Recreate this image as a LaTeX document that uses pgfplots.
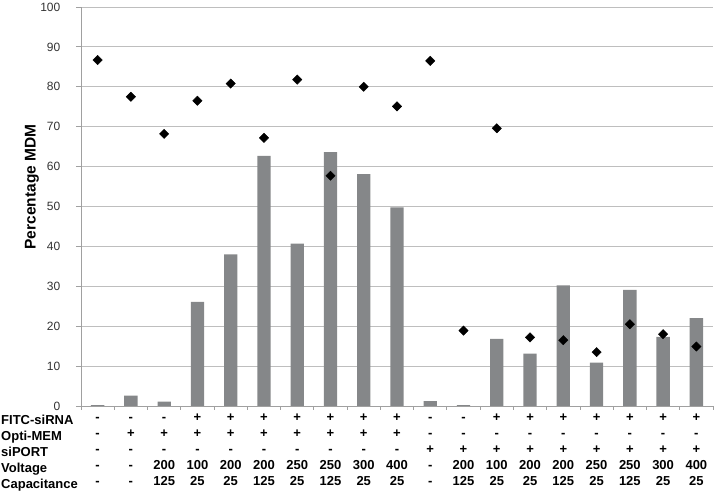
\documentclass[border=0pt]{standalone}
\usepackage{fontspec}
\setmainfont{Liberation Sans}
\usepackage{pgfplots}
\pgfplotsset{compat=1.18}
\definecolor{bargray}{HTML}{858789}
\definecolor{gridgray}{HTML}{BEBEBE}
\definecolor{axisgray}{HTML}{A0A0A0}
\newcommand{\st}{\rule{0pt}{10pt}}
\begin{document}
\begin{tikzpicture}
\begin{axis}[
  scale only axis, width=632pt, height=399pt,
  xmin=-0.5, xmax=18.5, ymin=0, ymax=100,
  axis lines=left, axis line style={-, draw=axisgray, line width=0.8pt},
  ytick={0,10,...,100},
  ymajorgrids, grid style={gridgray, line width=0.8pt},
  xtick={0,...,18},
  xticklabels={
    {\st-\\-\\-\\-\\-},
    {\st-\\+\\-\\-\\-},
    {\st-\\+\\-\\200\\125},
    {\st+\\+\\-\\100\\25},
    {\st+\\+\\-\\200\\25},
    {\st+\\+\\-\\200\\125},
    {\st+\\+\\-\\250\\25},
    {\st+\\+\\-\\250\\125},
    {\st+\\+\\-\\300\\25},
    {\st+\\+\\-\\400\\25},
    {\st-\\-\\+\\-\\-},
    {\st-\\-\\+\\200\\125},
    {\st+\\-\\+\\100\\25},
    {\st+\\-\\+\\200\\25},
    {\st+\\-\\+\\200\\125},
    {\st+\\-\\+\\250\\25},
    {\st+\\-\\+\\250\\125},
    {\st+\\-\\+\\300\\25},
    {\st+\\-\\+\\400\\25}},
  minor xtick={-0.5,0.5,...,18.5},
  tick align=outside,
  major tick length=5pt, minor tick length=4pt,
  tick style={axisgray, line width=0.8pt},
  major x tick style={draw=none},
  /pgf/number format/assume math mode=true,
  yticklabel style={font=\fontsize{12}{14}\selectfont, text=black!80, anchor=east, inner sep=0pt, xshift=-15.5pt},
  xticklabel style={font=\bfseries\fontsize{13}{16}\selectfont, align=center, anchor=north, inner sep=0pt},
  clip=false,
]
\addplot[ybar, bar width=13.3pt, fill=bargray, draw=none] coordinates {
  (0,0.2) (1,2.6) (2,1.1) (3,26.1) (4,38.0) (5,62.7) (6,40.7) (7,63.6) (8,58.1) (9,49.8)
  (10,1.25) (11,0.2) (12,16.8) (13,13.1) (14,30.2) (15,10.9) (16,29.1) (17,17.3) (18,22.0)
};
\addplot[only marks, mark=square*, mark size=3.3pt, mark options={rotate=45, fill=black, draw=black}] coordinates {
  (0,86.7) (1,77.5) (2,68.2) (3,76.5) (4,80.8) (5,67.2) (6,81.8) (7,57.7) (8,80.0) (9,75.1)
  (10,86.5) (11,18.9) (12,69.6) (13,17.2) (14,16.5) (15,13.5) (16,20.5) (17,18.0) (18,14.9)
};
\end{axis}
\node[anchor=north west, inner sep=0pt, align=left, font=\bfseries\fontsize{13}{16}\selectfont]
  at (-80pt,-8.5pt) {\st FITC-siRNA\\Opti-MEM\\siPORT\\Voltage\\Capacitance};
\node[rotate=90, font=\bfseries\fontsize{15.5}{18}\selectfont] at (-49pt,219pt) {Percentage MDM};
\pgfresetboundingbox
\path[use as bounding box] (-81pt,-88pt) rectangle (633pt,406pt);
\end{tikzpicture}
\end{document}
